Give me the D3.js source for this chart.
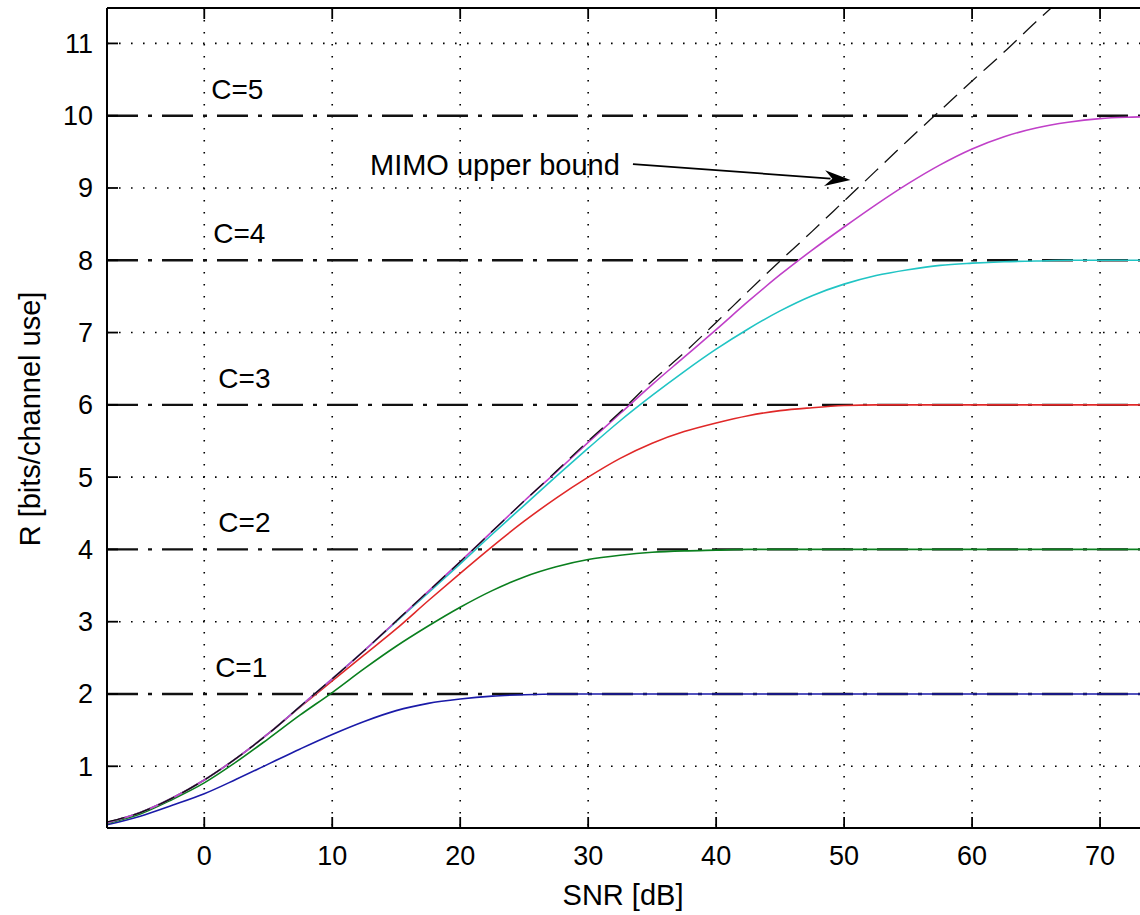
<!DOCTYPE html>
<html>
<head>
<meta charset="utf-8">
<script src="https://cdn.jsdelivr.net/npm/d3@7"></script>
<style>
  html, body { margin: 0; padding: 0; background: #ffffff; }
  svg { display: block; }
  text { font-family: "Liberation Sans", Arial, sans-serif; fill: #000; }
</style>
</head>
<body>
<script>
// ---------------- data ----------------
const snr = [-7.6,-5,-2.5,0,2.5,5,7.5,10,12.5,15,17.5,20,22.5,25,27.5,30,32.5,35,37.5,40,42.5,45,47.5,50,52.5,55,57.5,60,62.5,65,67.5,70,72.5,75];

const upperBound = [0.23,0.36,0.56,0.81,1.11,1.45,1.83,2.21,2.60,3.01,3.42,3.83,4.25,4.67,5.08,5.50,5.90,6.33,6.72,7.14,7.57,7.99,8.40,8.82,9.24,9.66,10.07,10.48,10.88,11.30,11.70,12.10,12.50,12.90];
const rateC5 = [0.22,0.36,0.56,0.81,1.11,1.45,1.83,2.21,2.60,3.01,3.42,3.83,4.25,4.67,5.07,5.48,5.88,6.28,6.66,7.04,7.43,7.80,8.14,8.46,8.77,9.06,9.32,9.54,9.71,9.83,9.91,9.96,9.98,9.99];
const rateC4 = [0.22,0.36,0.56,0.81,1.11,1.45,1.83,2.21,2.60,3.00,3.40,3.80,4.21,4.61,5.01,5.40,5.78,6.13,6.46,6.77,7.05,7.30,7.51,7.67,7.79,7.87,7.93,7.96,7.98,7.99,8.00,8.00,8.00,8.00];
const rateC3 = [0.22,0.36,0.56,0.81,1.11,1.45,1.82,2.18,2.54,2.90,3.29,3.67,4.04,4.39,4.71,5.00,5.26,5.47,5.63,5.75,5.85,5.92,5.96,5.99,6.00,6.00,6.00,6.00,6.00,6.00,6.00,6.00,6.00,6.00];
const rateC2 = [0.21,0.34,0.54,0.77,1.06,1.38,1.71,2.02,2.35,2.66,2.94,3.20,3.43,3.62,3.76,3.86,3.92,3.96,3.98,3.99,4.00,4.00,4.00,4.00,4.00,4.00,4.00,4.00,4.00,4.00,4.00,4.00,4.00,4.00];
const rateC1 = [0.19,0.31,0.46,0.62,0.82,1.03,1.24,1.44,1.62,1.77,1.87,1.93,1.97,1.99,2.00,2.00,2.00,2.00,2.00,2.00,2.00,2.00,2.00,2.00,2.00,2.00,2.00,2.00,2.00,2.00,2.00,2.00,2.00,2.00];

const seriesNames = ["C=1","C=2","C=3","C=4","C=5"];
const seriesColors = ["#1a1aa8","#0a7f1e","#e02828","#20c4c4","#c040c8"];
const capLevels = [2,4,6,8,10];
const capLabelX = [0.85,1.1,1.1,0.7,0.55];

const xTicks = [0,10,20,30,40,50,60,70];
const yTicks = [1,2,3,4,5,6,7,8,9,10,11];

const annotationText = "MIMO upper bound";
const annotationFrom = [33.5, 9.33];
const annotationTo = [50.5, 9.11];

// ---------------- layout ----------------
const W = 1140, H = 915;
const L = 107, T = 8, B = 828, R = 1141;

const svg = d3.select("body").append("svg").attr("width", W).attr("height", H);

const x = d3.scaleLinear().domain([-7.6, 73.2]).range([L, R]);
const y = d3.scaleLinear().domain([0.146, 11.49]).range([B, T]);

svg.append("defs").append("clipPath").attr("id", "plotclip")
  .append("rect").attr("x", L).attr("y", T).attr("width", R - L).attr("height", B - T);

const plot = svg.append("g").attr("clip-path", "url(#plotclip)");

// grid
plot.selectAll("line.vg").data(xTicks).enter().append("line")
  .attr("x1", d => x(d)).attr("x2", d => x(d)).attr("y1", T).attr("y2", B)
  .attr("stroke", "#000").attr("stroke-width", 1.6).attr("stroke-dasharray", "1.6,10.4");
plot.selectAll("line.hg").data(yTicks.filter(v => capLevels.indexOf(v) < 0)).enter().append("line")
  .attr("x1", L).attr("x2", R).attr("y1", d => y(d)).attr("y2", d => y(d))
  .attr("stroke", "#000").attr("stroke-width", 1.6).attr("stroke-dasharray", "1.6,10.4");

// capacity dash-dot lines
plot.selectAll("line.cap").data(capLevels).enter().append("line")
  .attr("x1", L).attr("x2", R).attr("y1", d => y(d)).attr("y2", d => y(d))
  .attr("stroke", "#111").attr("stroke-width", 2.4).attr("stroke-dasharray", "31,10,4,10");

// curves
const rates = [rateC1, rateC2, rateC3, rateC4, rateC5];
const line = d3.line().x(d => x(d[0])).y(d => y(d[1])).curve(d3.curveMonotoneX);

rates.forEach((r, i) => {
  plot.append("path")
    .attr("d", line(snr.map((s, k) => [s, r[k]])))
    .attr("fill", "none").attr("stroke", seriesColors[i]).attr("stroke-width", 1.6);
});

// upper bound dashed
plot.append("path")
  .attr("d", line(snr.map((s, k) => [s, upperBound[k]])))
  .attr("fill", "none").attr("stroke", "#111").attr("stroke-width", 1.3)
  .attr("stroke-dasharray", "18,9");

// capacity labels
svg.selectAll("text.cl").data(seriesNames).enter().append("text")
  .attr("x", (d, i) => x(capLabelX[i]))
  .attr("y", (d, i) => y(capLevels[i]))
  .attr("dy", -17)
  .attr("font-size", 28).text(d => d);

// annotation
const ax1 = x(annotationFrom[0]), ay1 = y(annotationFrom[1]);
const ax2 = x(annotationTo[0]), ay2 = y(annotationTo[1]);
svg.append("line").attr("x1", ax1).attr("y1", ay1).attr("x2", ax2 - 20).attr("y2", ay2 - 1.5)
  .attr("stroke", "#000").attr("stroke-width", 1.8);
{
  const ang = Math.atan2(ay2 - ay1, ax2 - ax1);
  const len = 26, wid = 8;
  const bx = ax2 - len * Math.cos(ang), by = ay2 - len * Math.sin(ang);
  const px = -Math.sin(ang) * wid, py = Math.cos(ang) * wid;
  svg.append("path")
    .attr("d", `M${ax2},${ay2} L${bx + px},${by + py} L${bx + len*0.3*Math.cos(ang)},${by + len*0.3*Math.sin(ang)} L${bx - px},${by - py} Z`)
    .attr("fill", "#000");
}
svg.append("text").attr("x", 370).attr("y", ay1 + 11).attr("font-size", 29).text(annotationText);

// axes box lines
svg.append("line").attr("x1", L).attr("x2", L).attr("y1", T).attr("y2", B).attr("stroke", "#000").attr("stroke-width", 2);
svg.append("line").attr("x1", L).attr("x2", W).attr("y1", T).attr("y2", T).attr("stroke", "#000").attr("stroke-width", 2);
svg.append("line").attr("x1", L).attr("x2", W).attr("y1", B).attr("y2", B).attr("stroke", "#000").attr("stroke-width", 2);

// ticks (inward)
const tickLen = 11;
xTicks.forEach(t => {
  svg.append("line").attr("x1", x(t)).attr("x2", x(t)).attr("y1", B).attr("y2", B - tickLen).attr("stroke", "#000").attr("stroke-width", 1.8);
  svg.append("line").attr("x1", x(t)).attr("x2", x(t)).attr("y1", T).attr("y2", T + tickLen).attr("stroke", "#000").attr("stroke-width", 1.8);
});
yTicks.forEach(t => {
  svg.append("line").attr("x1", L).attr("x2", L + tickLen).attr("y1", y(t)).attr("y2", y(t)).attr("stroke", "#000").attr("stroke-width", 1.8);
});

// tick labels
svg.selectAll("text.xt").data(xTicks).enter().append("text")
  .attr("x", d => x(d)).attr("y", 865).attr("text-anchor", "middle").attr("font-size", 27).text(d => d);
svg.selectAll("text.yt").data(yTicks).enter().append("text")
  .attr("x", 93).attr("y", d => y(d)).attr("dy", "0.35em").attr("text-anchor", "end").attr("font-size", 27).text(d => d);

// axis labels
svg.append("text").attr("x", 623).attr("y", 905).attr("text-anchor", "middle").attr("font-size", 29).text("SNR [dB]");
svg.append("text").attr("transform", "translate(40,419) rotate(-90)").attr("text-anchor", "middle").attr("font-size", 29).text("R [bits/channel use]");
</script>
</body>
</html>
